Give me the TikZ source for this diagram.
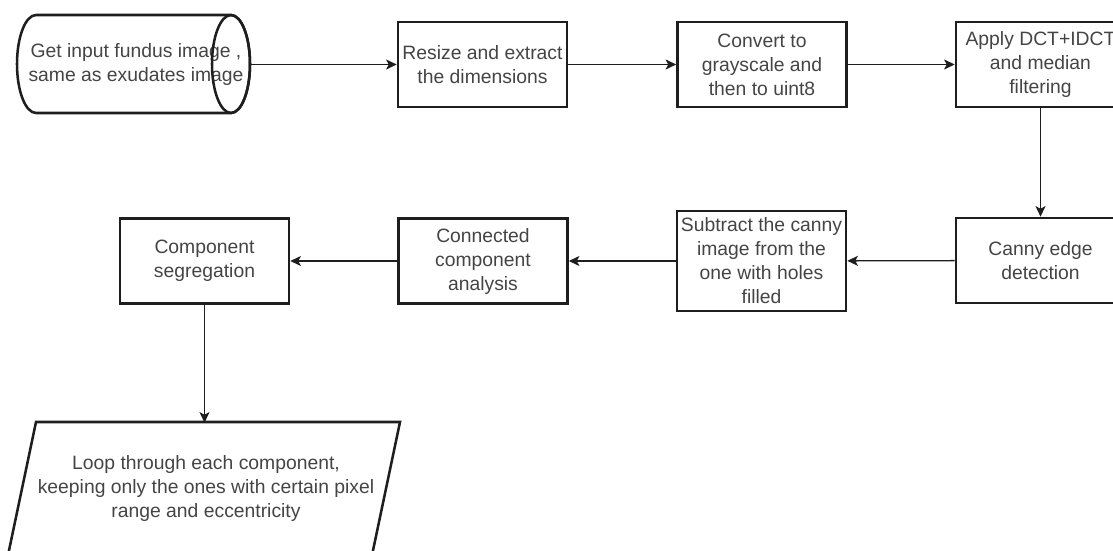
\documentclass[tikz,border=0pt]{standalone}
\usepackage{fontspec}
\setmainfont{Liberation Sans}
\usetikzlibrary{arrows.meta}

\definecolor{edgegray}{HTML}{1E1E1E}
\definecolor{textgray}{HTML}{444444}

\tikzset{
  stepbox/.style={draw=edgegray, line width=1.9pt, text=textgray, align=center,
    inner sep=0pt, minimum width=126.75pt, minimum height=63.75pt,
    font=\fontsize{14.5}{18}\selectfont},
  textonly/.style={text=textgray, align=center, inner sep=0pt,
    font=\fontsize{14.5}{18}\selectfont},
  outline/.style={draw=edgegray, line width=1.9pt, line join=miter},
  flow/.style={draw=edgegray, line width=1pt, -{Stealth[length=8pt,width=7.5pt,inset=2pt]}}
}

\begin{document}
\begin{tikzpicture}[x=0.75pt,y=-0.75pt]
  \useasboundingbox (0,0) rectangle (1113,550);
  \clip (0,0) rectangle (1113,550);

  % top row
  \node[textonly, minimum width=171pt, minimum height=73.5pt] (input) at (136,64.5)
    {Get input fundus image ,\\same as exudates image};
  \draw[outline] (36,15) -- (231,15) arc[start angle=-90,end angle=90,x radius=19,y radius=49]
    -- (36,113) arc[start angle=90,end angle=270,x radius=19,y radius=49] -- cycle;
  \draw[outline] (231,64) ellipse[x radius=19,y radius=49];

  \node[stepbox] (resize) at (482.5,64.5) {Resize and extract\\the dimensions};
  \node[stepbox] (convert) at (762,64.5) {Convert to\\grayscale and\\then to uint8};
  \node[stepbox] (apply) at (1040.5,64.5) {Apply DCT+IDCT\\and median\\filtering};

  % second row
  \node[stepbox] (canny) at (1040.5,260.5) {Canny edge\\detection};
  \node[stepbox, minimum height=75pt] (subtract) at (761.5,261)
    {Subtract the canny\\image from the\\one with holes\\filled};
  \node[stepbox] (connected) at (483,261) {Connected\\component\\analysis};
  \node[stepbox] (segregation) at (204.5,261) {Component\\segregation};

  % last step
  \node[textonly, minimum width=270pt, minimum height=97.5pt] (loop) at (206,488)
    {Loop through each component,\\keeping only the ones with certain pixel\\range and eccentricity};
  \draw[outline] (7,560) -- (36,422) -- (400,422) -- (371,560);

  \draw[flow] (input) -- (resize);
  \draw[flow] (resize) -- (convert);
  \draw[flow] (convert) -- (apply);
  \draw[flow] (apply) -- (canny);
  \draw[flow] (canny) -- (subtract);
  \draw[flow] (subtract) -- (connected);
  \draw[flow] (connected) -- (segregation);
  \draw[flow] (segregation.south) -- (segregation.south |- loop.north);
\end{tikzpicture}
\end{document}
